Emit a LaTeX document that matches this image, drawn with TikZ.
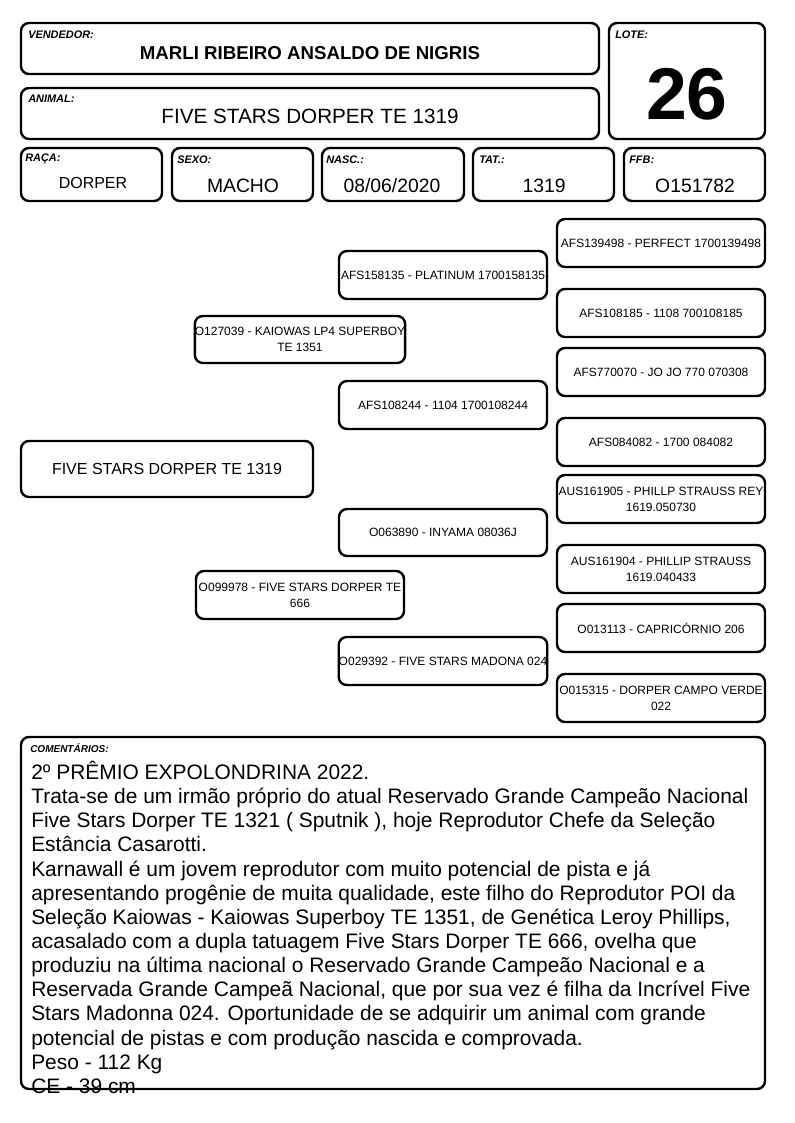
\documentclass[tikz,border=0pt]{standalone}
\usepackage{fontspec}
\setmainfont{Liberation Sans}
\tikzset{
 bx/.style={draw, line width=1.8pt, rounded corners=6pt, inner sep=0pt, align=center},
 lbl/.style={anchor=west, inner sep=0pt, font=\fontsize{8.2}{9}\selectfont\bfseries\itshape},
 val/.style={inner sep=0pt, font=\fontsize{14.5}{16}\selectfont},
 ped/.style={font=\fontsize{9}{12}\selectfont},
}
\newcommand{\pbox}[7]{\node[bx, minimum width={(#4-#2)*0.75pt}, minimum height={(#5-#3)*0.75pt}, #6] (#1) at ({(#2+#4)/2},{(#3+#5)/2}) {#7};}
\begin{document}
\begin{tikzpicture}[x=0.75pt,y=-0.75pt]
\useasboundingbox[fill=white] (0,0) rectangle (794,1123);
% header
\pbox{vend}{21}{23}{599}{74}{}{}
\node[lbl] (lvend) at (28,35) {VENDEDOR:};
\node[inner sep=0pt, font=\fontsize{14}{16}\selectfont\bfseries] (vvend) at (310,53) {MARLI RIBEIRO ANSALDO DE NIGRIS};
\pbox{lote}{609}{23}{765}{139}{}{}
\node[lbl] (llote) at (615,35) {LOTE:};
\node[inner sep=0pt, font=\fontsize{55}{60}\selectfont\bfseries] (vlote) at (687,94) {26};
\pbox{anim}{21}{88}{599}{139}{}{}
\node[lbl] (lanim) at (28,99) {ANIMAL:};
\node[inner sep=0pt, font=\fontsize{15.5}{18}\selectfont] (vanim) at (310,116) {FIVE STARS DORPER TE 1319};
\pbox{raca}{21}{148}{162}{201}{}{}
\node[lbl] (lraca) at (25,159) {RAÇA:};
\node[inner sep=0pt, font=\fontsize{12}{14}\selectfont] (vraca) at (93,183) {DORPER};
\pbox{sexo}{172}{148}{313}{201}{}{}
\node[lbl] (lsexo) at (177,160) {SEXO:};
\node[val] (vsexo) at (243,186) {MACHO};
\pbox{nasc}{322}{148}{464}{201}{}{}
\node[lbl] (lnasc) at (326,160) {NASC.:};
\node[val] (vnasc) at (392,186) {08/06/2020};
\pbox{tat}{473}{148}{614}{201}{}{}
\node[lbl] (ltat) at (479,160) {TAT.:};
\node[val] (vtat) at (544,186) {1319};
\pbox{ffb}{624}{148}{765}{201}{}{}
\node[lbl] (lffb) at (629,160) {FFB:};
\node[val] (vffb) at (695,186) {O151782};
% pedigree
\pbox{p0}{21}{441}{313}{497}{font=\fontsize{12}{14}\selectfont}{FIVE STARS DORPER TE 1319}
\pbox{p1}{196}{316}{404}{363}{ped}{O127039 - KAIOWAS LP4 SUPERBOY\\TE 1351}
\pbox{p2}{196}{571}{404}{619}{ped}{O099978 - FIVE STARS DORPER TE\\666}
\pbox{p11}{339}{251}{547}{299}{ped}{AFS158135 - PLATINUM 1700158135}
\pbox{p12}{339}{381}{547}{429}{ped}{AFS108244 - 1104 1700108244}
\pbox{p21}{339}{509}{547}{556}{ped}{O063890 - INYAMA 08036J}
\pbox{p22}{339}{637}{547}{685}{ped}{O029392 - FIVE STARS MADONA 024}
\pbox{p111}{557}{219}{765}{267}{ped}{AFS139498 - PERFECT 1700139498}
\pbox{p112}{557}{289}{765}{337}{ped}{AFS108185 - 1108 700108185}
\pbox{p121}{557}{348}{765}{396}{ped}{AFS770070 - JO JO 770 070308}
\pbox{p122}{557}{418}{765}{466}{ped}{AFS084082 - 1700 084082}
\pbox{p211}{557}{475}{765}{523}{ped}{AUS161905 - PHILLP STRAUSS REY\\1619.050730}
\pbox{p212}{557}{545}{765}{593}{ped}{AUS161904 - PHILLIP STRAUSS\\1619.040433}
\pbox{p221}{557}{604}{765}{652}{ped}{O013113 - CAPRICÓRNIO 206}
\pbox{p222}{557}{674}{765}{722}{ped}{O015315 - DORPER CAMPO VERDE\\022}
% comments
\pbox{com}{21}{737}{765}{1089}{}{}
\node[lbl, font=\fontsize{7.5}{9}\selectfont\bfseries\itshape] (lcom) at (30,748) {COMENTÁRIOS:};
\node[anchor=north west, inner sep=0pt, align=left, font=\fontsize{15.7}{18.1}\selectfont] (tcom) at (31,761) {%
2º PRÊMIO EXPOLONDRINA 2022.\\
Trata-se de um irmão próprio do atual Reservado Grande Campeão Nacional\\
Five Stars Dorper TE 1321 ( Sputnik ), hoje Reprodutor Chefe da Seleção\\
Estância Casarotti.\\
Karnawall é um jovem reprodutor com muito potencial de pista e já\\
apresentando progênie de muita qualidade, este filho do Reprodutor POI da\\
Seleção Kaiowas - Kaiowas Superboy TE 1351, de Genética Leroy Phillips,\\
acasalado com a dupla tatuagem Five Stars Dorper TE 666, ovelha que\\
produziu na última nacional o Reservado Grande Campeão Nacional e a\\
Reservada Grande Campeã Nacional, que por sua vez é filha da Incrível Five\\
Stars Madonna 024. Oportunidade de se adquirir um animal com grande\\
potencial de pistas e com produção nascida e comprovada.\\
Peso - 112 Kg\\
CE - 39 cm};
\end{tikzpicture}
\end{document}
